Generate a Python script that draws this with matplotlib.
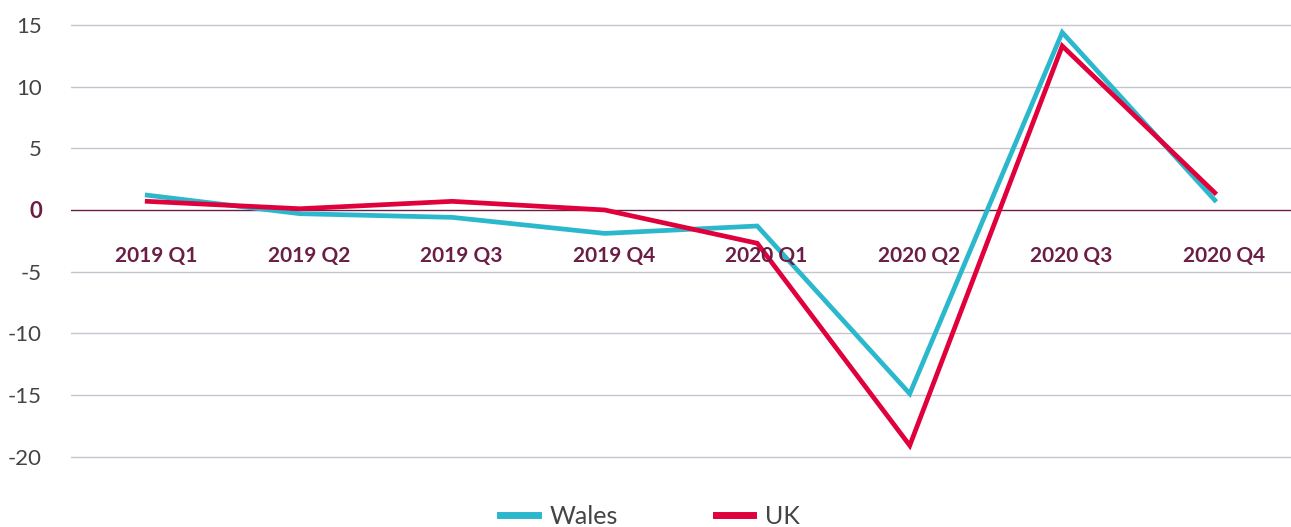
import matplotlib
matplotlib.use("Agg")
from matplotlib import pyplot as plt

quarters = ["2019 Q1", "2019 Q2", "2019 Q3", "2019 Q4", "2020 Q1", "2020 Q2", "2020 Q3", "2020 Q4"]
wales = [1.2, -0.3, -0.6, -1.9, -1.3, -14.9, 14.4, 0.8]
uk = [0.7, 0.1, 0.7, 0.0, -2.7, -19.1, 13.3, 1.4]
yticks = [15, 10, 5, 0, -5, -10, -15, -20]

plt.rcParams['font.family'] = ['Lato', 'DejaVu Sans']
plt.rcParams['axes.unicode_minus'] = False
maroon = '#6b1e45'
teal = '#2bb8cc'
red = '#e0003c'

fig = plt.figure(figsize=(12.91, 5.27), dpi=100)
ax = fig.add_axes((71 / 1291, 47 / 527, 1 - 71 / 1291, 480 / 527))

x = list(range(len(quarters)))
ax.plot(x, wales, color=teal, lw=3.4, label='Wales', solid_joinstyle='miter')
ax.plot(x, uk, color=red, lw=3.4, label='UK', solid_joinstyle='miter')

ax.set_xlim(-0.5, 7.5)
ax.set_ylim(-21.9, 17.03)
ax.set_yticks(yticks)
for t in yticks:
    if t == 0:
        ax.axhline(0, color=maroon, lw=1, zorder=1)
    else:
        ax.axhline(t, color='#c4c5cf', lw=1, zorder=0)

ax.set_xticks([])
for i, q in enumerate(quarters):
    ax.text(i + 0.06, -3.7, q, ha='center', va='center', fontsize=15,
            fontweight='bold', color=maroon)

ax.tick_params(axis='y', length=0, pad=21, labelsize=16, labelcolor='#444444')
for lbl in ax.get_yticklabels():
    if lbl.get_text() in ('0',):
        lbl.set_color(maroon)
        lbl.set_fontweight('bold')
for s in ax.spines.values():
    s.set_visible(False)

leg = fig.legend(loc='center', bbox_to_anchor=(0.5035, 0.02), ncol=2, frameon=False,
                 fontsize=18, handlelength=1.5, columnspacing=3.9, handletextpad=0.48,
                 labelcolor='#444444')
for ln in leg.get_lines():
    ln.set_linewidth(5)

plt.savefig('out.png')
